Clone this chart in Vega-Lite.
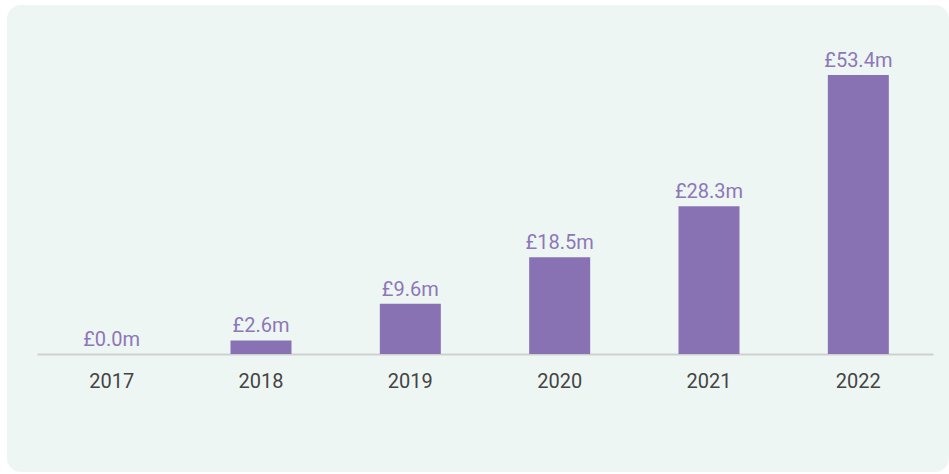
{
  "$schema": "https://vega.github.io/schema/vega-lite/v6.json",
  "width": 942,
  "height": 467,
  "autosize": {"type": "none"},
  "padding": {"left": 7, "top": 5, "right": 0, "bottom": 2},
  "background": "#ffffff",
  "view": {"fill": "#eef6f3", "stroke": null, "cornerRadius": 14},
  "config": {"font": "Roboto"},
  "data": {
    "values": [
      {"year": "2017", "value": 0.0, "label": "£0.0m"},
      {"year": "2018", "value": 2.6, "label": "£2.6m"},
      {"year": "2019", "value": 9.6, "label": "£9.6m"},
      {"year": "2020", "value": 18.5, "label": "£18.5m"},
      {"year": "2021", "value": 28.3, "label": "£28.3m"},
      {"year": "2022", "value": 53.4, "label": "£53.4m"}
    ]
  },
  "encoding": {
    "x": {
      "field": "year",
      "type": "ordinal",
      "scale": {"range": [30, 926], "paddingInner": 0.5915, "paddingOuter": 0.2957},
      "axis": {
        "title": null,
        "orient": "bottom",
        "offset": -118,
        "domain": true,
        "domainColor": "#cfcfcf",
        "domainWidth": 2,
        "ticks": false,
        "grid": false,
        "labelAngle": 0,
        "labelFont": "Roboto",
        "labelFontSize": 20,
        "labelColor": "#444444",
        "labelBaseline": "alphabetic",
        "labelPadding": 33
      }
    },
    "y": {
      "field": "value",
      "type": "quantitative",
      "scale": {"domain": [0, 66.8], "range": [349, 0], "nice": false, "zero": true},
      "axis": null
    }
  },
  "layer": [
    {"mark": {"type": "bar", "color": "#8872b4"}},
    {
      "mark": {
        "type": "text",
        "baseline": "alphabetic",
        "align": "center",
        "dy": -8,
        "fontSize": 20,
        "font": "Roboto",
        "color": "#8d77b8"
      },
      "encoding": {"text": {"field": "label"}}
    }
  ]
}
